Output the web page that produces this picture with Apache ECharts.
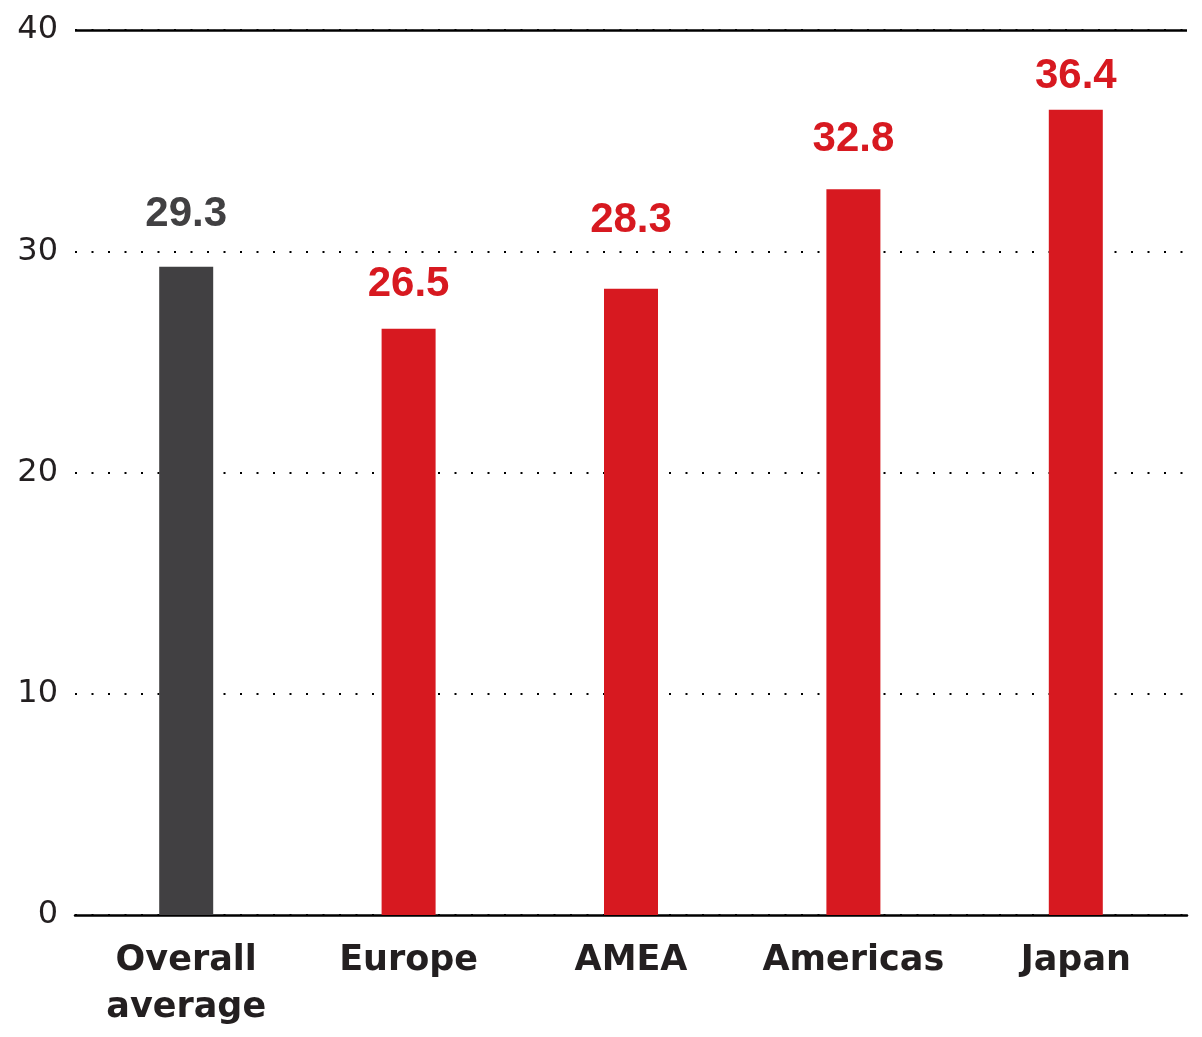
<!DOCTYPE html>
<html><head><meta charset="utf-8">
<script src="https://cdn.jsdelivr.net/npm/echarts@6/dist/echarts.min.js"></script>
<style>html,body{margin:0;padding:0;background:#fff}#c{width:1202px;height:1037px}</style>
</head><body><div id="c"></div>
<script>
const categories = ['Overall\naverage', 'Europe', 'AMEA', 'Americas', 'Japan'];
const values = [29.3, 26.5, 28.3, 32.8, 36.4];
const barColors = ['#414042', '#D71920', '#D71920', '#D71920', '#D71920'];
const labelGaps = [31, 23, 47, 29, 12];
const yTicks = [0, 10, 20, 30, 40];

const chart = echarts.init(document.getElementById('c'), null, {renderer: 'canvas'});
chart.setOption({
  animation: false,
  grid: {left: 75, right: 15, top: 30, bottom: 122, containLabel: false},
  xAxis: {
    type: 'category',
    data: categories,
    axisLine: {show: true, lineStyle: {color: '#000', width: 2.5}},
    axisTick: {show: false},
    axisLabel: {
      color: '#231F20', fontSize: 35, fontWeight: 'bold',
      fontFamily: 'DejaVu Sans, sans-serif',
      lineHeight: 47, margin: 22, interval: 0
    }
  },
  yAxis: {
    type: 'value', min: 0, max: 40, interval: 10,
    axisLine: {show: false}, axisTick: {show: false},
    axisLabel: {
      color: '#231F20', fontSize: 32, margin: 17,
      fontFamily: 'DejaVu Sans, sans-serif',
      padding: [6, 0, 0, 0],
      formatter: v => yTicks.includes(v) ? String(v) : ''
    },
    splitLine: {
      show: true,
      lineStyle: {color: '#000', width: 2, type: [2, 14.5]}
    }
  },
  series: [{
    type: 'bar',
    barWidth: 54,
    data: values.map((v, i) => ({
      value: v,
      itemStyle: {color: barColors[i]},
      label: {distance: labelGaps[i], color: barColors[i]}
    })),
    label: {
      show: true, position: 'top',
      fontSize: 42, fontWeight: 'bold',
      fontFamily: 'Liberation Sans, Arial, sans-serif',
      formatter: p => p.value.toFixed(1)
    }
  }, {
    type: 'line', data: [], markLine: {
      silent: true, symbol: 'none', label: {show: false},
      lineStyle: {color: '#000', width: 2.5, type: 'solid'},
      data: [{yAxis: 40}]
    }
  }]
});
</script></body></html>
